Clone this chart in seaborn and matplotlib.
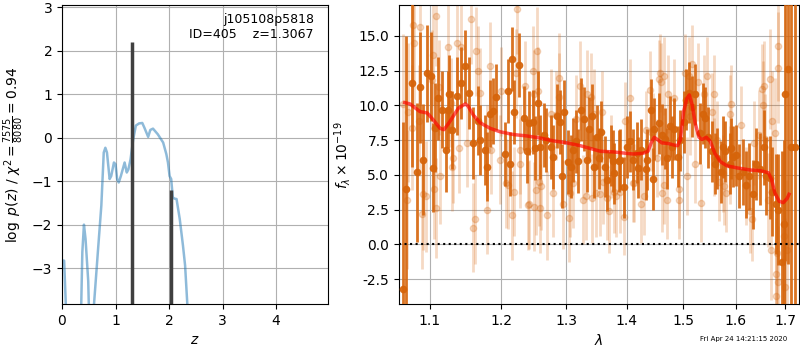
import numpy as np
import pandas as pd
import matplotlib
matplotlib.use("Agg")
import matplotlib.pyplot as plt
import matplotlib.ticker as mticker
import seaborn as sns

# ---- left panel: redshift probability ----
pz_z = [0.0, 0.04, 0.07, 0.10, 0.33, 0.36, 0.38, 0.41, 0.44, 0.49, 0.50, 0.55,
        0.60, 0.67, 0.735, 0.78, 0.81, 0.84, 0.89, 0.92, 0.97, 1.0, 1.03, 1.06,
        1.10, 1.17, 1.21, 1.24, 1.28, 1.33, 1.38, 1.44, 1.50, 1.54, 1.61, 1.65,
        1.70, 1.79, 1.89, 1.95, 1.98, 2.01, 2.04, 2.07, 2.10, 2.14, 2.20, 2.26,
        2.30, 2.34, 2.40, 4.97]
pz_logp = [-2.82, -2.83, -3.8, -5.0, -5.0, -3.8, -2.63, -2.0, -2.33, -3.3, -3.8, -4.5,
           -3.8, -2.63, -1.56, -0.34, -0.23, -0.34, -0.95, -0.88, -0.57, -0.61, -0.95, -1.03,
           -0.88, -0.57, -0.80, -0.73, -0.50, -0.04, 0.28, 0.33, 0.34, 0.23, 0.02, 0.18,
           0.21, 0.08, -0.11, -0.38, -0.57, -0.88, -0.95, -1.37, -1.40, -1.41, -1.87, -2.48,
           -2.94, -3.8, -5.0, -12.0]
peak_z = [1.3067, 2.03]
peak_logp = [2.2, -1.2]

# ---- right panel: spectrum ----
dark_wave = [1.064, 1.068, 1.076, 1.083, 1.086, 1.090, 1.0964, 1.102, 1.1045, 1.107,
             1.111, 1.116, 1.1213, 1.124, 1.1257, 1.130, 1.137, 1.143, 1.148,
             1.154, 1.159, 1.166, 1.170, 1.176, 1.179, 1.184, 1.189, 1.193, 1.206,
             1.210, 1.2135, 1.217, 1.220, 1.2265, 1.234, 1.239, 1.242,
             1.2477, 1.251, 1.255, 1.259, 1.265, 1.268, 1.276, 1.279, 1.286, 1.290,
             1.293, 1.296, 1.302, 1.307, 1.311, 1.315, 1.318, 1.324, 1.328, 1.334,
             1.337, 1.3415, 1.345, 1.350,
             1.353, 1.357, 1.363, 1.366, 1.3724, 1.376, 1.379, 1.386, 1.389, 1.3946,
             1.400, 1.405, 1.410, 1.417, 1.420, 1.425, 1.433, 1.436, 1.4415, 1.445,
             1.448, 1.456, 1.461,
             1.4673, 1.470, 1.476, 1.479, 1.483, 1.4913, 1.495, 1.502, 1.506, 1.5115,
             1.517, 1.522, 1.532, 1.537, 1.541, 1.547, 1.5535, 1.560, 1.564, 1.571,
             1.575, 1.580, 1.588,
             1.591, 1.594, 1.601, 1.606, 1.6138, 1.621, 1.627, 1.634, 1.641, 1.648,
             1.656, 1.661, 1.668, 1.6735, 1.6805, 1.686, 1.693, 1.697, 1.7005, 1.706,
             1.712, 1.721]
dark_flux = [-3.2, 4.0, 11.6, 5.2, 11.3, 6.1, 12.3, 12.1, 5.5, 8.4,
             10.5, 9.7, 6.8, 9.7, 10.8, 8.2, 10.7, 11.6, 12.8,
             10.9, 7.3, 8.9, 7.5, 6.8, 5.6, 9.4, 9.6, 10.6, 6.5,
             11.0, 5.8, 13.3, 9.5, 12.9, 9.1, 6.7, 8.7,
             8.8, 6.9, 10.2, 7.0, 7.9, 7.5, 7.0, 6.3, 9.2, 8.8,
             4.9, 9.5, 5.9, 5.6, 6.8, 7.4, 6.0, 9.7, 9.0, 6.1,
             8.3, 9.2, 5.6, 7.7,
             6.2, 8.1, 5.6, 4.6, 6.4, 6.0, 5.1, 6.0, 6.1, 4.1,
             7.0, 7.4, 6.1, 6.6, 5.5, 6.8, 5.4, 6.1, 9.7, 4.7,
             8.3, 8.7, 7.9,
             7.6, 6.2, 8.5, 7.0, 8.3, 6.3, 7.5, 8.8, 10.4, 10.9,
             9.9, 10.8, 8.0, 9.4, 9.1, 7.7, 6.7, 5.8, 6.2, 5.2,
             7.0, 6.7, 5.8,
             6.9, 6.3, 6.4, 4.9, 5.2, 4.3, 4.9, 3.6, 5.8, 5.4,
             7.0, 4.9, 4.8, 3.8, 2.9, 2.5, -1.3, 1.5, 10.8, 12.6,
             7.0, 7.0]
dark_err = [12, 11, 6, 5, 4, 4, 3.5, 3.2, 3.2, 3.2,
            3, 2.8, 3, 2.8, 2.8, 2.8, 2.8, 2.6, 2.6,
            2.6, 2.6, 2.5, 2.5, 2.5, 2.5, 2.4, 2.4, 2.4, 2.3,
            2.3, 2.3, 2.3, 2.3, 2.3, 2.3, 2.3, 2.3,
            2.3, 2.3, 2.3, 2.3, 2.3, 2.3, 2.3, 2.3, 2.3, 2.3,
            2.3, 2.3, 2.3, 2.3, 2.3, 2.3, 2.3, 2.3, 2.3, 2.3,
            2.3, 2.3, 2.3, 2.3,
            2.2, 2.2, 2.2, 2.2, 2.2, 2.2, 2.2, 2.2, 2.2, 2.2,
            2.2, 2.2, 2.2, 2.2, 2.2, 2.2, 2.2, 2.2, 2.2, 2.2,
            2.2, 2.2, 2.2,
            2.2, 2.2, 2.2, 2.2, 2.2, 2.2, 2.2, 2.2, 2.2, 2.2,
            2.2, 2.2, 2.2, 2.2, 2.2, 2.2, 2.2, 2.2, 2.2, 2.2,
            2.2, 2.2, 2.2,
            2.2, 2.2, 2.2, 2.3, 2.4, 2.4, 2.4, 2.5, 2.6, 2.6,
            2.7, 2.8, 3, 3.2, 3.6, 4, 8, 6, 12, 14,
            14, 14]

light_wave = [1.064, 1.0696, 1.071, 1.076, 1.077, 1.079, 1.085, 1.087, 1.089, 1.0906,
              1.094, 1.103, 1.104, 1.105, 1.108, 1.1085, 1.112, 1.113, 1.125, 1.128,
              1.130, 1.132, 1.137, 1.140, 1.143,
              1.151, 1.1566, 1.160, 1.163, 1.1635, 1.166, 1.169, 1.179, 1.1795, 1.184,
              1.185, 1.1986, 1.200, 1.208, 1.210, 1.216, 1.220, 1.222, 1.224, 1.228,
              1.229, 1.236, 1.240, 1.242,
              1.248, 1.249, 1.250, 1.252, 1.254, 1.256, 1.2565, 1.258, 1.261, 1.270,
              1.276, 1.279, 1.283, 1.288, 1.289, 1.294, 1.305, 1.306, 1.311, 1.315,
              1.322, 1.327, 1.332, 1.334, 1.340, 1.342, 1.345, 1.349,
              1.354, 1.358, 1.359, 1.366, 1.3695, 1.373, 1.378, 1.381, 1.388, 1.395,
              1.397, 1.405, 1.410, 1.413, 1.424, 1.430, 1.434, 1.440, 1.442, 1.446,
              1.4535, 1.456, 1.459, 1.460, 1.461,
              1.465, 1.466, 1.470, 1.473, 1.483, 1.492, 1.4925, 1.503, 1.508, 1.5115,
              1.513, 1.517, 1.522, 1.528, 1.534, 1.539, 1.544, 1.5535, 1.557, 1.558,
              1.563, 1.568, 1.5745, 1.578, 1.5815, 1.588,
              1.589, 1.590, 1.610, 1.620, 1.628, 1.633, 1.637, 1.647, 1.653, 1.6535,
              1.656, 1.659, 1.664, 1.669, 1.671, 1.6735, 1.679, 1.680, 1.6805, 1.684,
              1.6842, 1.685, 1.686, 1.698, 1.6995, 1.703]
light_flux = [10.1, 3.2, 9.5, 8.4, 15.8, 14.5, 8.9, 15.6, 2.2, 3.6,
              3.45, 11.8, 13.6, 4.0, 16.4, 2.6, 11.3, 4.9, 14.2, 10.2,
              5.6, 6.2, 14.5, 6.9, 14.2,
              7.3, 16.2, 1.2, 1.8, 13.9, 12.5, 10.9, 2.5, 6.8, 12.8,
              6.8, 6.1, 11.0, 4.4, 4.3, 2.1, 3.8, 12.3, 16.9, 6.8,
              5.8, 11.4, 2.8, 2.9,
              12.5, 2.7, 10.8, 3.9, 13.9, 11.0, 4.5, 2.6, 4.2, 2.1,
              9.4, 3.7, 9.3, 12.0, 10.6, 2.9, 1.9, 3.7, 4.4, 9.0,
              11.4, 3.2, 3.5, 10.8, 10.6, 3.3, 9.4, 3.7,
              3.6, 9.5, 4.5, 3.3, 2.4, 6.3, 3.8, 3.5, 3.8, 2.0,
              8.9, 10.5, 4.4, 4.4, 2.9, 3.5, 8.2, 11.1, 8.1, 8.1,
              6.2, 11.9, 12.3, 11.7, 3.7,
              12.1, 4.3, 3.2, 10.8, 10.5, 4.0, 3.2, 12.3, 4.9, 12.1,
              9.2, 13.0, 5.8, 11.7, 3.0, 10.8, 12.1, 9.5, 6.3, 10.8,
              7.5, 4.5, 5.1, 4.2, 3.7, 5.7,
              9.4, 10.1, 8.6, 4.2, 2.4, 1.8, 7.3, 7.9, 11.2, 10.0,
              11.4, 7.6, 3.2, 11.9, -0.4, 8.9, 8.0, -2.1, -3.7, -0.6,
              12.7, -2.7, 14.3, 0.6, -3.1, -0.4]
light_err = [5, 5, 5, 4.5, 4.5, 4.5, 4, 4, 4, 4,
             4, 3.6, 3.6, 3.6, 3.6, 3.6, 3.4, 3.4, 3.2, 3.2,
             3.2, 3.2, 3.2, 3.2, 3.2,
             3.2, 3.2, 3.2, 3.2, 3.2, 3.2, 3.2, 3.2, 3.2, 3.2,
             3.2, 3.2, 3.2, 3.2, 3.2, 3.2, 3.2, 3.2, 3.2, 3.2,
             3.2, 3.2, 3.2, 3.2,
             3.2, 3.2, 3.2, 3.2, 3.2, 3.2, 3.2, 3.2, 3.2, 3.2,
             3.2, 3.2, 3.2, 3.2, 3.2, 3.2, 3.2, 3.2, 3.2, 3.2,
             3.2, 3.2, 3.2, 3.2, 3.2, 3.2, 3.2, 3.2,
             3, 3, 3, 3, 3, 3, 3, 3, 3, 2.8,
             2.8, 2.8, 2.8, 2.8, 2.8, 2.8, 2.8, 2.8, 2.8, 2.8,
             2.8, 2.8, 2.8, 2.8, 2.8,
             2.8, 2.8, 2.8, 2.8, 2.8, 2.8, 2.8, 2.8, 2.8, 2.8,
             2.8, 2.8, 2.8, 2.8, 2.8, 2.8, 2.8, 2.8, 2.8, 2.8,
             2.8, 2.8, 2.8, 2.8, 2.8, 2.8,
             2.8, 2.8, 2.8, 2.8, 3, 3, 3, 3.2, 3.2, 3.2,
             3.2, 3.2, 3.4, 3.6, 3.6, 3.6, 4, 4, 4, 4,
             4, 4, 4, 5, 5, 5]

model_wave = [1.0665, 1.0734, 1.0866, 1.0964, 1.1045, 1.1136, 1.119, 1.1273, 1.139, 1.1486,
              1.1525, 1.160, 1.1696, 1.184, 1.1986, 1.2185, 1.2385, 1.2589, 1.279, 1.301,
              1.3223, 1.3386, 1.3551, 1.377, 1.399, 1.4115, 1.428, 1.437, 1.4425, 1.448,
              1.4515, 1.4615, 1.4735, 1.4827, 1.490, 1.495, 1.501, 1.507, 1.5115, 1.517,
              1.5225, 1.5295, 1.535, 1.5435, 1.551, 1.5595, 1.5702, 1.583, 1.6027, 1.629,
              1.649, 1.6655, 1.672, 1.6786, 1.6875, 1.696, 1.704, 1.708]
model_flux = [10.2, 10.1, 9.55, 9.45, 8.95, 8.35, 8.25, 8.85, 9.8, 10.1,
              9.95, 9.3, 8.75, 8.35, 8.1, 7.9, 7.8, 7.65, 7.45, 7.3,
              7.1, 6.9, 6.7, 6.65, 6.55, 6.5, 6.55, 6.7, 7.3, 7.7,
              7.6, 7.3, 7.25, 7.15, 7.1, 7.5, 9.55, 10.5, 10.75, 10.0,
              8.7, 7.7, 7.55, 7.7, 7.4, 6.55, 5.95, 5.65, 5.5, 5.35,
              5.3, 5.15, 4.65, 3.7, 3.1, 3.0, 3.3, 3.6]

pz_df = pd.DataFrame({"z": pz_z, "logp": pz_logp})
model_df = pd.DataFrame({"wave": model_wave, "flux": model_flux})

orange = "#d6640a"

fig = plt.figure(figsize=(8, 3.5), dpi=100)
ax1 = fig.add_axes([0.0775, 0.131, 0.3325, 0.854])
ax2 = fig.add_axes([0.49875, 0.131, 0.5, 0.854])

# left panel
sns.lineplot(data=pz_df, x="z", y="logp", ax=ax1, color="#1f77b4", alpha=0.5,
             lw=1.8, sort=False, estimator=None)
ax1.vlines(peak_z, -10, peak_logp, color="#404040", lw=2.5)
ax1.set_xlim(0, 4.97)
ax1.set_ylim(-3.83, 3.05)
ax1.set_xticks([0, 1, 2, 3, 4])
ax1.set_yticks([-3, -2, -1, 0, 1, 2, 3])
ax1.grid(True, color="#b0b0b0", lw=0.8)
ax1.set_axisbelow(True)
ax1.set_xlabel(r"$z$")
ax1.set_ylabel(r"$\log\ p(z)$ / $\chi^2=\frac{7575}{8080}=0.94$")
ax1.text(0.947, 0.975, "j105108p5818\nID=405    z=1.3067", transform=ax1.transAxes,
         ha="right", va="top", fontsize=9, linespacing=1.2)

# right panel
ax2.errorbar(light_wave, light_flux, yerr=light_err, fmt="o", color=orange,
             ms=4.5, elinewidth=2, alpha=0.24, zorder=2)
ax2.errorbar(dark_wave, dark_flux, yerr=dark_err, fmt="o", color=orange,
             ms=4.5, elinewidth=2, alpha=0.9, zorder=3)
sns.lineplot(data=model_df, x="wave", y="flux", ax=ax2, color="red", alpha=0.65,
             lw=2.5, sort=False, estimator=None, zorder=5)
ax2.axhline(0, color="k", ls=":", lw=1.5, zorder=4)
ax2.set_xscale("log")
ax2.set_xlim(1.059, 1.729)
ax2.set_ylim(-4.3, 17.2)
ax2.set_xticks([1.1, 1.2, 1.3, 1.4, 1.5, 1.6, 1.7])
ax2.xaxis.set_major_formatter(mticker.FormatStrFormatter("%.1f"))
ax2.xaxis.set_minor_locator(mticker.NullLocator())
ax2.set_yticks([-2.5, 0, 2.5, 5, 7.5, 10, 12.5, 15])
ax2.yaxis.set_major_formatter(mticker.FormatStrFormatter("%.1f"))
ax2.grid(True, color="#b0b0b0", lw=0.8)
ax2.set_axisbelow(True)
ax2.set_xlabel(r"$\lambda$")
ax2.set_ylabel(r"$f_\lambda\times10^{-19}$")

fig.text(0.984, 0.022, "Fri Apr 24 14:21:15 2020", ha="right", va="bottom", fontsize=5)

fig.savefig("out.png", dpi=100)
